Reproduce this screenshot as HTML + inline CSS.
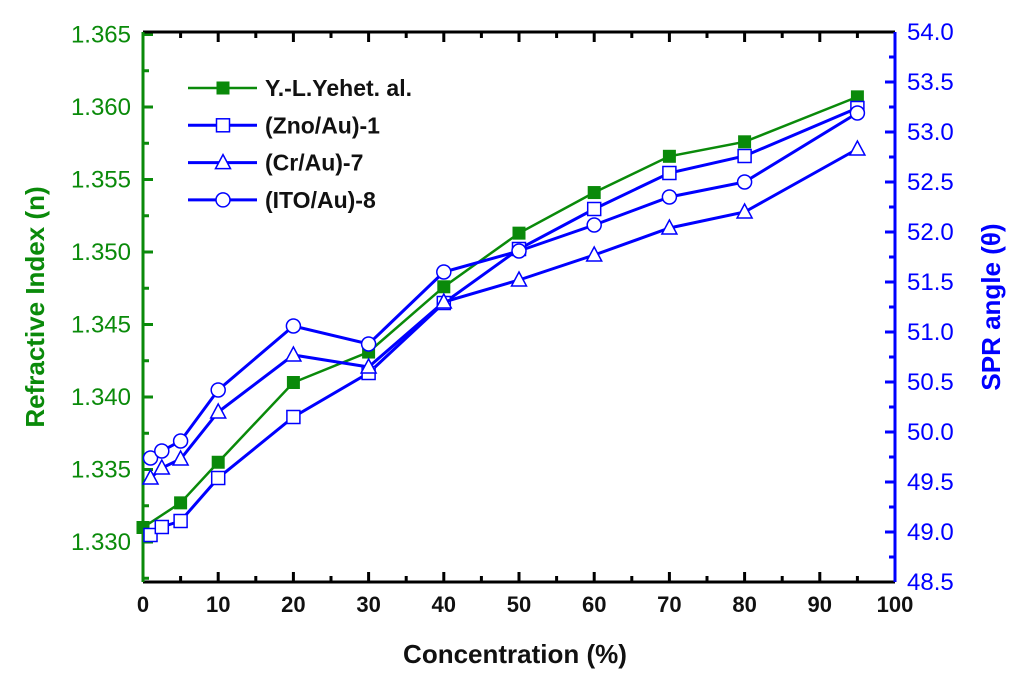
<!DOCTYPE html>
<html><head><meta charset="utf-8"><style>
body{margin:0;background:#fff;}
svg{display:block;font-family:"Liberation Sans",Arial,sans-serif;font-weight:bold;}
</style></head><body>
<svg id="chart" width="1024" height="687" viewBox="0 0 1024 687" xmlns="http://www.w3.org/2000/svg"></svg>
<script>
const concGreen=[0,5,10,20,30,40,50,60,70,80,95];
const nGreen=[1.3310,1.3327,1.3355,1.3410,1.3431,1.3476,1.3513,1.3541,1.3566,1.3576,1.3607];
const concBlue=[1,2.5,5,10,20,30,40,50,60,70,80,95];
const thetaZno=[48.97,49.05,49.11,49.54,50.15,50.59,51.29,51.83,52.23,52.59,52.76,53.24];
const thetaCr=[49.54,49.64,49.73,50.20,50.77,50.65,51.30,51.52,51.77,52.04,52.20,52.83];
const thetaIto=[49.74,49.81,49.91,50.42,51.06,50.88,51.60,51.81,52.07,52.35,52.50,53.19];
const xTicks=[0,10,20,30,40,50,60,70,80,90,100];
const leftTicks=["1.330","1.335","1.340","1.345","1.350","1.355","1.360","1.365"];
const rightTicks=["48.5","49.0","49.5","50.0","50.5","51.0","51.5","52.0","52.5","53.0","53.5","54.0"];
const legendLabels=["Y.-L.Yehet. al.","(Zno/Au)-1","(Cr/Au)-7","(ITO/Au)-8"];

const PL=143,PR=895,PT=32,PB=582;
const X=v=>PL+(v-0)*(PR-PL)/100;
const YL=n=>252-(n-1.35)*14500;
const YR=t=>PB-(t-48.5)*(PB-PT)/5.5;
const svgEl=document.getElementById('chart');
const NS='http://www.w3.org/2000/svg';
function mk(tag,attrs,parent){const e=document.createElementNS(NS,tag);for(const k in attrs)e.setAttribute(k,attrs[k]);(parent||svgEl).appendChild(e);return e;}
const GREEN='#0a8a0a',BLUE='#0000ff';

const tg=mk('g',{});


for(let v=0;v<=100;v+=5){const maj=v%10===0,len=maj?10:6;
 mk('line',{x1:X(v),x2:X(v),y1:PB,y2:PB-len,stroke:'#000','stroke-width':3},tg);
 mk('line',{x1:X(v),x2:X(v),y1:PT,y2:PT+len,stroke:'#000','stroke-width':3},tg);}
for(let i=0;i<=16;i++){const n=1.325+i*0.0025;const y=YL(n);if(y<PT-1||y>PB+1)continue;const maj=i%2===0;
 mk('line',{x1:PL,x2:PL+(maj?10:6),y1:y,y2:y,stroke:GREEN,'stroke-width':3},tg);}
for(let i=0;i<=22;i++){const t=48.5+i*0.25;const y=YR(t);const maj=i%2===0;
 mk('line',{x1:PR,x2:PR-(maj?10:6),y1:y,y2:y,stroke:BLUE,'stroke-width':3},tg);}

const topAxis=mk('line',{x1:PL,x2:PR,y1:PT,y2:PT,stroke:'#000','stroke-width':3});


const botAxis=mk('line',{x1:PL,x2:PR,y1:PB,y2:PB,stroke:'#000','stroke-width':3});


const leftAxis=mk('line',{x1:PL,x2:PL,y1:PT,y2:PB,stroke:GREEN,'stroke-width':3});


const rightAxis=mk('line',{x1:PR,x2:PR,y1:PT,y2:PB,stroke:BLUE,'stroke-width':3});



xTicks.forEach(v=>{const t=mk('text',{x:X(v),y:612,'text-anchor':'middle','font-size':22,fill:'#111'});t.textContent=v;
 
 });
leftTicks.forEach(s=>{const t=mk('text',{x:131,y:YL(parseFloat(s))+8,'text-anchor':'end','font-size':24,fill:GREEN,'font-weight':'normal'});t.textContent=s;
 
 });
rightTicks.forEach(s=>{const t=mk('text',{x:907,y:YR(parseFloat(s))+8,'text-anchor':'start','font-size':24,fill:BLUE,'font-weight':'normal'});t.textContent=s;
 
 });

let tt=mk('text',{x:515,y:663,'text-anchor':'middle','font-size':26,fill:'#111'});tt.textContent='Concentration (%)';


tt=mk('text',{x:0,y:0,'text-anchor':'middle','font-size':26,fill:GREEN,transform:'translate(44,307) rotate(-90)'});tt.textContent='Refractive Index (n)';


tt=mk('text',{x:0,y:0,'text-anchor':'middle','font-size':26,fill:BLUE,transform:'translate(1000,307) rotate(-90)'});tt.textContent='SPR angle (θ)';



function marker(type,x,y,color,g){
 if(type==='fsq') return mk('rect',{x:x-6.5,y:y-6.5,width:13,height:13,fill:color},g);
 if(type==='sq') return mk('rect',{x:x-6.5,y:y-6.5,width:13,height:13,fill:'#fff',stroke:color,'stroke-width':1.5},g);
 if(type==='tri') return mk('polygon',{points:`${x},${y-8} ${x-7.5},${y+6} ${x+7.5},${y+6}`,fill:'#fff',stroke:color,'stroke-width':1.5},g);
 return mk('circle',{cx:x,cy:y,r:7,fill:'#fff',stroke:color,'stroke-width':1.5},g);
}
function series(name,xs,ys,yf,color,type,w){
 const g=mk('g',{});
 
 
 const pts=xs.map((v,i)=>X(v)+','+yf(ys[i])).join(' ');
 mk('polyline',{points:pts,fill:'none',stroke:color,'stroke-width':w},g);
 xs.forEach((v,i)=>{const m=marker(type,X(v),yf(ys[i]),color,g);
  
  });
}
series('series-yeh',concGreen,nGreen,YL,GREEN,'fsq',2.5);
series('series-zno-au-1',concBlue,thetaZno,YR,BLUE,'sq',3);
series('series-cr-au-7',concBlue,thetaCr,YR,BLUE,'tri',3);
series('series-ito-au-8',concBlue,thetaIto,YR,BLUE,'circ',3);

const lg=mk('g',{});


const ltypes=['fsq','sq','tri','circ'],lcols=[GREEN,BLUE,BLUE,BLUE];
legendLabels.forEach((s,i)=>{const y=88+i*37.3;
 const e=mk('g',{},lg);
 
 
 mk('line',{x1:188,x2:257,y1:y,y2:y,stroke:lcols[i],'stroke-width':i?3:2.5},e);
 marker(ltypes[i],223,y,lcols[i],e);
 const t=mk('text',{x:265,y:y+8,'font-size':23,fill:'#111'},e);t.textContent=s;});
</script>
</body></html>
